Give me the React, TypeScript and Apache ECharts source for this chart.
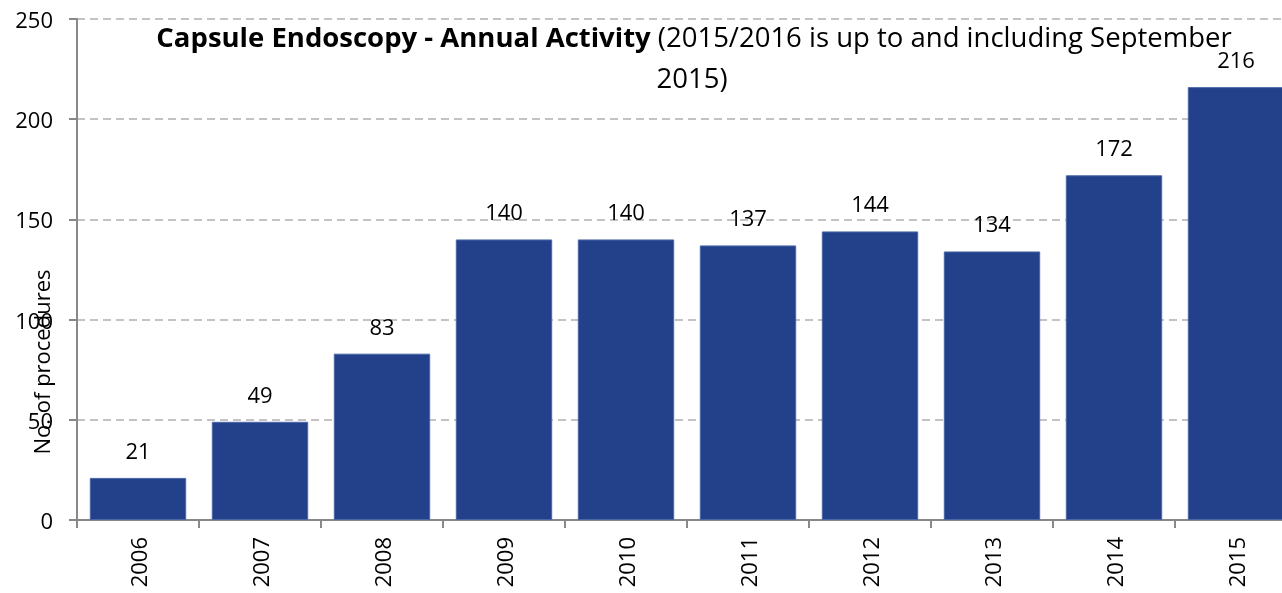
import React, { useEffect, useRef } from "react";
import * as echarts from "echarts";

const years = ["2006", "2007", "2008", "2009", "2010", "2011", "2012", "2013", "2014", "2015"];
const procedures = [21, 49, 83, 140, 140, 137, 144, 134, 172, 216];
const yTicks = { min: 0, max: 250, interval: 50 };
const titleBold = "Capsule Endoscopy - Annual Activity";
const titleRest1 = " (2015/2016 is up to and including September";
const titleRest2 = "2015)";
const yName = "No. of procedures";

const FONT = "'Open Sans', sans-serif";

export default function App() {
  const ref = useRef<HTMLDivElement>(null);
  useEffect(() => {
    if (!ref.current) return;
    const chart = echarts.init(ref.current, null, { renderer: "svg" });
    chart.setOption({
      animation: false,
      textStyle: { fontFamily: FONT },
      grid: { left: 77, right: 0, top: 19, bottom: 73, containLabel: false },
      graphic: [
        {
          type: "text",
          x: 694,
          y: 36,
          style: {
            text: `{b|${titleBold}}{n|${titleRest1}}`,
            align: "center",
            verticalAlign: "middle",
            rich: {
              b: { fontFamily: FONT, fontSize: 27.5, fontWeight: "bold", fill: "#000", lineHeight: 22 },
              n: { fontFamily: FONT, fontSize: 27.5, fontWeight: "normal", fill: "#000", lineHeight: 22 },
            },
          },
        },
        {
          type: "text",
          x: 692,
          y: 77,
          style: {
            text: titleRest2,
            fontFamily: FONT,
            fontSize: 27.5,
            fill: "#000",
            align: "center",
            verticalAlign: "middle",
          },
        },
        {
          type: "text",
          x: 41,
          y: 362,
          rotation: Math.PI / 2,
          style: {
            text: yName,
            fontFamily: FONT,
            fontSize: 22,
            fill: "#000",
            align: "center",
            verticalAlign: "middle",
          },
        },
      ],
      xAxis: {
        type: "category",
        data: years,
        axisLine: { show: true, lineStyle: { color: "#888", width: 2 } },
        axisTick: { show: true, length: 8, lineStyle: { color: "#888", width: 2 } },
        axisLabel: { rotate: 90, margin: 17, fontSize: 22, color: "#000", fontFamily: FONT },
      },
      yAxis: {
        type: "value",
        min: yTicks.min,
        max: yTicks.max,
        interval: yTicks.interval,
        axisLine: { show: true, lineStyle: { color: "#888", width: 2 } },
        axisTick: { show: true, length: 8, lineStyle: { color: "#888", width: 2 } },
        axisLabel: { margin: 24, fontSize: 22, color: "#000", fontFamily: FONT },
        splitLine: { show: true, lineStyle: { color: "#b0b0b0", type: [8, 5], width: 1.5 } },
      },
      series: [
        {
          type: "bar",
          data: procedures,
          barCategoryGap: "21%",
          itemStyle: { color: "#22418a", borderColor: "#4a66a6", borderWidth: 1 },
          label: {
            show: true,
            position: "top",
            distance: 17,
            fontSize: 22,
            lineHeight: 22,
            color: "#000",
            fontFamily: FONT,
          },
        },
      ],
    });
    return () => chart.dispose();
  }, []);
  return (
    <div style={{ position: "fixed", left: 0, top: 0, width: 1282, height: 593, overflow: "hidden" }}>
      <div ref={ref} style={{ position: "absolute", left: 0, top: 0, width: 1297, height: 593 }} />
    </div>
  );
}
